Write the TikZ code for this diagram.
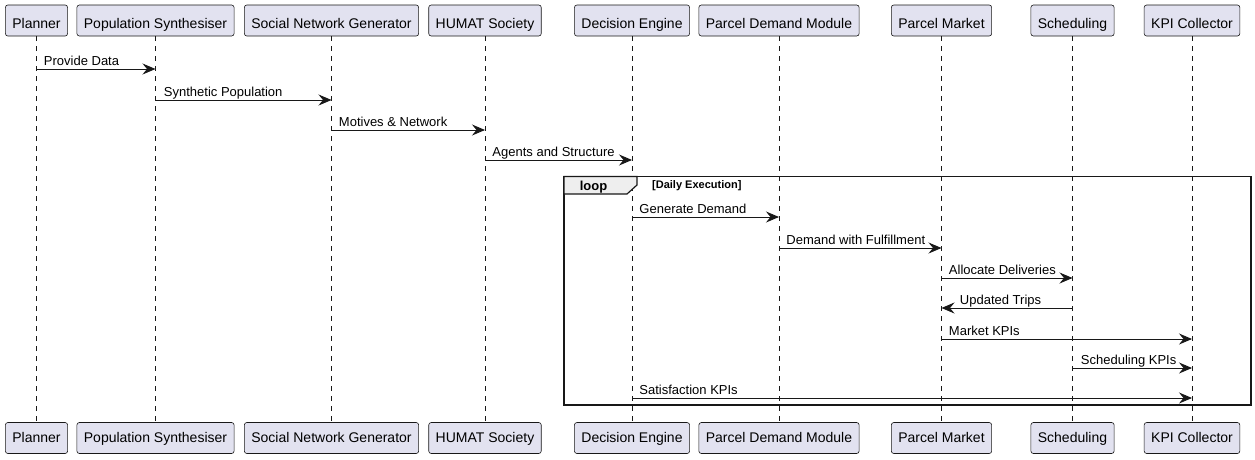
\documentclass[tikz,border=0pt]{standalone}
\usepackage{fontspec}
\setmainfont{Liberation Sans}
\usetikzlibrary{arrows.meta}
\definecolor{pfill}{HTML}{E2E2F0}
\definecolor{pline}{HTML}{181818}
\definecolor{tabfill}{HTML}{EEEEEE}
\tikzset{
 part/.style={draw=pline, fill=pfill, line width=0.6pt, rounded corners=2.5pt, minimum height=31pt, inner xsep=7pt, inner ysep=0pt, text depth=0pt, font=\fontsize{14}{16}\selectfont},
 partT/.style={part, text height=15pt},
 partB/.style={part, text height=9pt},
 life/.style={draw=pline, line width=0.5pt, dash pattern=on 5pt off 5pt},
 msg/.style={draw=pline, line width=0.9pt, -{Stealth[length=13pt,width=11pt,inset=4.5pt]}},
 lbl/.style={font=\fontsize{13}{15}\selectfont, anchor=base west, inner sep=0pt, yshift=3.5pt},
 framebox/.style={draw=pline, line width=1.5pt},
}
\begin{document}
\begin{tikzpicture}[x=1pt,y=-1pt]
\useasboundingbox (0,0) rectangle (1255,459);
% participants
\foreach \n/\x/\t in {pl/36.5/Planner, ps/155.5/Population Synthesiser, sn/331.5/Social Network Generator, hu/485/HUMAT Society, de/632/Decision Engine, pd/779/Parcel Demand Module, pm/941.5/Parcel Market, sc/1072.5/Scheduling, kp/1192/KPI Collector}{
  \node[partT] (\n T) at (\x,20.5) {\t};
  \node[partB] (\n B) at (\x,438) {\t};
  \draw[life] (\n T.south) -- (\n B.north);
}
% loop frame
\draw[framebox] (564,176.5) rectangle (1251,405);
\draw[framebox, fill=tabfill, line width=1.2pt] (564,176.5) -- (637,176.5) -- (637,185) -- (627,194) -- (564,194) -- cycle;
\node[font=\fontsize{13}{15}\selectfont\bfseries, anchor=base, inner sep=0pt] (looplbl) at (593.5,190) {loop};
\node[font=\fontsize{11}{13}\selectfont\bfseries, anchor=base west, inner sep=0pt] (loopcond) at (652,188.5) {[Daily Execution]};
% messages
\draw[msg] (plT.center |- 0,69) -- node[lbl, pos=0, xshift=7pt] (m1) {Provide Data} (psT.center |- 0,69);
\draw[msg] (psT.center |- 0,100) -- node[lbl, pos=0, xshift=8pt] (m2) {Synthetic Population} (snT.center |- 0,100);
\draw[msg] (snT.center |- 0,130) -- node[lbl, pos=0, xshift=7pt] (m3) {Motives \& Network} (huT.center |- 0,130);
\draw[msg] (huT.center |- 0,160) -- node[lbl, pos=0, xshift=7pt] (m4) {Agents and Structure} (deT.center |- 0,160);
\draw[msg] (deT.center |- 0,217) -- node[lbl, pos=0, xshift=7pt] (m5) {Generate Demand} (pdT.center |- 0,217);
\draw[msg] (pdT.center |- 0,248) -- node[lbl, pos=0, xshift=7pt] (m6) {Demand with Fulfillment} (pmT.center |- 0,248);
\draw[msg] (pmT.center |- 0,278) -- node[lbl, pos=0, xshift=7pt] (m7) {Allocate Deliveries} (scT.center |- 0,278);
\draw[msg] (scT.center |- 0,308) -- node[lbl, pos=1, xshift=18pt] (m8) {Updated Trips} (pmT.center |- 0,308);
\draw[msg] (pmT.center |- 0,339) -- node[lbl, pos=0, xshift=7pt] (m9) {Market KPIs} (kpT.center |- 0,339);
\draw[msg] (scT.center |- 0,368) -- node[lbl, pos=0, xshift=8pt] (m10) {Scheduling KPIs} (kpT.center |- 0,368);
\draw[msg] (deT.center |- 0,398) -- node[lbl, pos=0, xshift=7pt] (m11) {Satisfaction KPIs} (kpT.center |- 0,398);
\end{tikzpicture}
\end{document}
